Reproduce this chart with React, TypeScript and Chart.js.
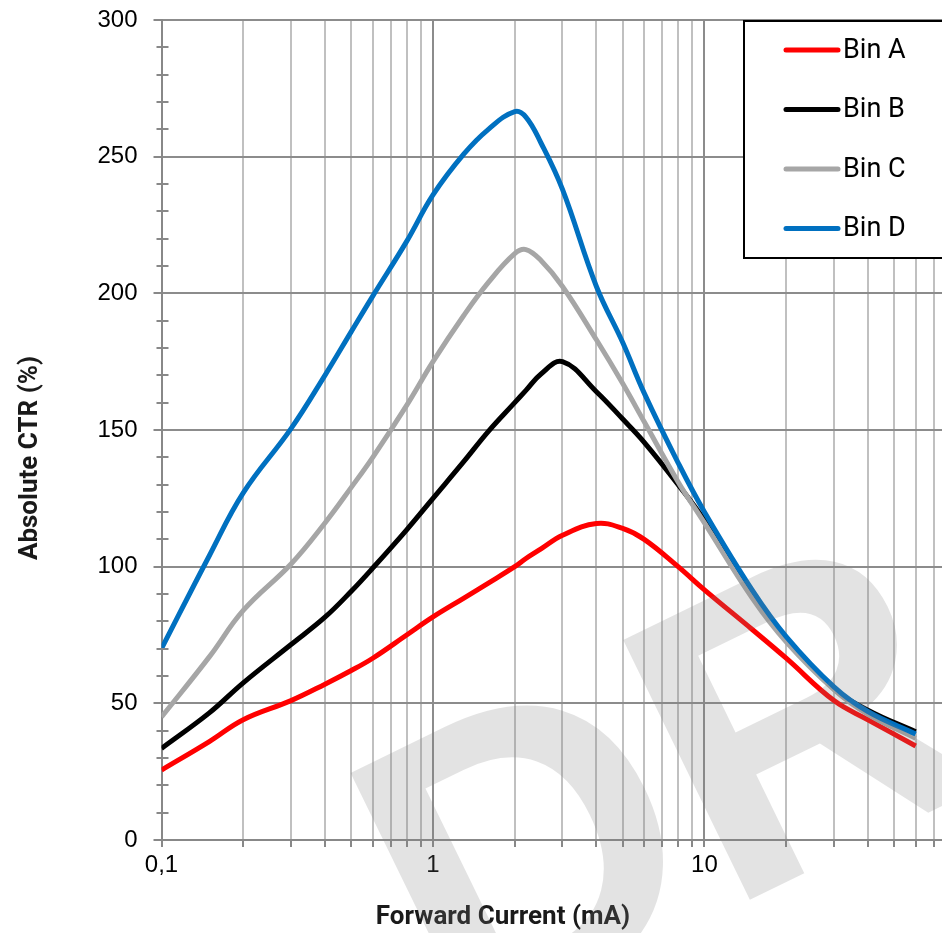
import { useEffect, useRef } from "react";
import { Chart, registerables } from "chart.js";

Chart.register(...registerables);

const currentMA = [0.1, 0.15, 0.2, 0.3, 0.4, 0.5, 0.6, 0.8, 1, 1.3, 1.6, 2, 2.2, 2.5, 3, 4, 5, 6, 8, 10, 15, 20, 30, 40, 60];
const binA = [25.6, 36, 44, 51, 57, 62, 66.5, 75, 81.6, 88.5, 94, 100, 103, 106.5, 111.5, 115.8, 114, 110, 100, 91.5, 77, 66.5, 51, 44, 34.4];
const binB = [33.5, 46.5, 57.5, 71.5, 81.5, 91, 99.5, 113.5, 125, 138.5, 149.5, 160, 164.5, 170.5, 175, 164, 154, 145.5, 130, 117, 89.5, 73.5, 55.5, 47.5, 39.6];
const binC = [45, 67, 84, 101, 116, 129, 140, 159, 175, 192, 204, 214.5, 216, 212, 202.5, 183, 167, 153, 131, 116, 88.5, 72.5, 55, 46, 37.2];
const binD = [70, 104, 127, 150.5, 170, 186, 199, 219, 236, 251, 260, 266.5, 264.5, 255, 238, 202.5, 182, 163.5, 138, 120, 91.4, 74.4, 56, 47, 38.8];

const seriesNames = ["Bin A", "Bin B", "Bin C", "Bin D"];
const seriesColors = ["#ff0000", "#000000", "#a6a6a6", "#0070c0"];
const seriesValues = [binA, binB, binC, binD];

const yMajorTicks = [0, 50, 100, 150, 200, 250, 300];
const yMinorTicks = [10, 20, 30, 40, 60, 70, 80, 90, 110, 120, 130, 140, 160, 170, 180, 190, 210, 220, 230, 240, 260, 270, 280, 290];
const xGridValues = [0.1, 0.2, 0.3, 0.4, 0.5, 0.6, 0.7, 0.8, 0.9, 1, 2, 3, 4, 5, 6, 7, 8, 9, 10, 20, 30, 40, 50, 60, 70];
const xTickLabels: [number, string][] = [[0.1, "0,1"], [1, "1"], [10, "10"]];

const xTitle = "Forward Current (mA)";
const yTitle = "Absolute CTR (%)";
const watermark = "DRAFT";

function isDecade(v: number) {
  return xTickLabels.some(([t]) => Math.abs(t - v) < 1e-9);
}

const overlayPlugin = {
  id: "overlay",
  afterDraw(chart: any) {
    const ctx = chart.ctx as CanvasRenderingContext2D;
    const { left } = chart.chartArea;
    const ys = chart.scales.y;
    ctx.save();
    // minor y ticks
    ctx.strokeStyle = "#888888";
    ctx.lineWidth = 2;
    ctx.beginPath();
    for (const v of yMinorTicks) {
      const y = Math.round(ys.getPixelForValue(v));
      ctx.moveTo(left - 5, y);
      ctx.lineTo(left + 7, y);
    }
    ctx.stroke();

    // axis titles
    ctx.fillStyle = "#1a1a1a";
    ctx.font = "bold 26px Roboto";
    ctx.textAlign = "center";
    ctx.textBaseline = "middle";
    ctx.fillText(xTitle, 503, 917);
    ctx.save();
    ctx.translate(30, 458);
    ctx.rotate(-Math.PI / 2);
    ctx.fillText(yTitle, 0, 0);
    ctx.restore();

    // legend
    ctx.fillStyle = "#ffffff";
    ctx.fillRect(744, 21, 220, 237);
    ctx.strokeStyle = "#000000";
    ctx.lineWidth = 2;
    ctx.strokeRect(744, 21, 220, 237);
    const rows = [50, 109.5, 169, 228.5];
    ctx.font = "27px Roboto";
    ctx.textAlign = "left";
    ctx.textBaseline = "middle";
    seriesNames.forEach((name, i) => {
      ctx.strokeStyle = seriesColors[i];
      ctx.lineWidth = 5;
      ctx.lineCap = "round";
      ctx.beginPath();
      ctx.moveTo(786, rows[i]);
      ctx.lineTo(838, rows[i]);
      ctx.stroke();
      ctx.fillStyle = "#000000";
      ctx.fillText(name, 843, rows[i] + 1);
    });

    // watermark
    ctx.save();
    ctx.translate(452, 1045);
    ctx.rotate((-26 * Math.PI) / 180);
    ctx.font = "bold 420px 'Liberation Sans'";
    ctx.textAlign = "left";
    ctx.textBaseline = "alphabetic";
    ctx.fillStyle = "rgba(128,128,128,0.22)";
    ctx.fillText(watermark, 0, 0);
    ctx.restore();

    ctx.restore();
  },
};

export default function App() {
  const canvasRef = useRef<HTMLCanvasElement | null>(null);

  useEffect(() => {
    document.body.style.margin = "0";
    const canvas = canvasRef.current;
    if (!canvas) return;
    const datasets = seriesValues.map((vals, i) => ({
      label: seriesNames[i],
      data: currentMA.map((x, j) => ({ x, y: vals[j] })),
      borderColor: seriesColors[i],
      backgroundColor: seriesColors[i],
      borderWidth: 5,
      pointRadius: 0,
      fill: false,
      tension: 0.4,
      order: 3 - i,
    }));

    const chart = new Chart(canvas, {
      type: "line",
      data: { datasets },
      options: {
        animation: false,
        responsive: false,
        layout: { padding: { top: 20, left: 0, right: 0, bottom: 0 } },
        plugins: {
          legend: { display: false },
          tooltip: { enabled: false },
        },
        scales: {
          x: {
            type: "logarithmic",
            min: 0.1,
            max: 75,
            afterBuildTicks: (scale: any) => {
              scale.ticks = xGridValues.map((v) => ({ value: v }));
            },
            afterFit: (scale: any) => {
              scale.height = 93;
              scale.paddingLeft = 0;
              scale.paddingRight = 0;
            },
            ticks: {
              autoSkip: false,
              maxRotation: 0,
              padding: 4,
              color: "#000000",
              font: { family: "'Liberation Sans'", size: 24 },
              callback: (value: any) => {
                const f = xTickLabels.find(([t]) => Math.abs(t - Number(value)) < 1e-9);
                return f ? f[1] : "";
              },
            },
            grid: {
              color: (c: any) => (isDecade(c.tick?.value) ? "#8c8c8c" : "#c0c0c0"),
              lineWidth: 2,
              tickLength: 7,
              tickColor: "#888888",
            },
            border: { color: "#888888", width: 2 },
          },
          y: {
            type: "linear",
            min: 0,
            max: 300,
            afterBuildTicks: (scale: any) => {
              scale.ticks = yMajorTicks.map((v) => ({ value: v }));
            },
            afterFit: (scale: any) => {
              scale.width = 161.5;
              scale.paddingTop = 0;
              scale.paddingBottom = 0;
            },
            ticks: {
              padding: 16,
              color: "#000000",
              font: { family: "'Liberation Sans'", size: 24 },
            },
            grid: {
              color: "#8c8c8c",
              lineWidth: 2,
              tickLength: 8,
              tickColor: "#888888",
            },
            border: { color: "#888888", width: 2 },
          },
        },
      },
      plugins: [overlayPlugin],
    });
    return () => chart.destroy();
  }, []);

  return (
    <div style={{ position: "absolute", left: 0, top: 0, width: 942, height: 933, background: "#ffffff" }}>
      <canvas ref={canvasRef} width={942} height={933} style={{ display: "block", width: 942, height: 933 }} />
    </div>
  );
}
